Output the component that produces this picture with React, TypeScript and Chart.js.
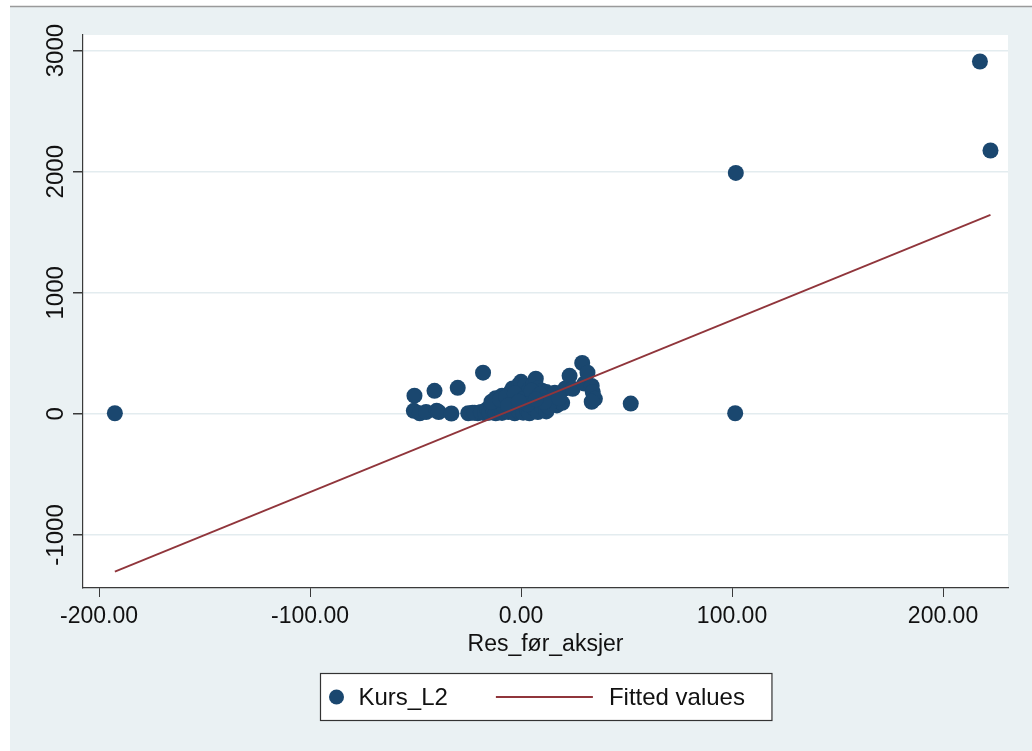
import React, { useEffect, useRef } from "react";
import { Chart, registerables } from "chart.js";

Chart.register(...registerables);

// Kurs_L2 observations against Res_før_aksjer
const kursX = [
  -192.5, -50.5, -50.8, -48, -45, -41, -40, -39, -33, -30, -23, -20.5, -18,
  -25, -22, -19, -17, -16, -15, -14, -13, -12, -12, -11, -10, -9, -9, -8, -7,
  -6, -5, -5, -4, -4, -3, -2, -2, -1, -1, 0, 0, 1, 1, 2, 2, 3, 3, 4, 4, 5, 6,
  6, 7, 7, 8, 8, 9, 10, 10, 11, 12, 12, 13, 14, 15, 16, 17, 19.5, 21, 23, 24.5,
  29, 30, 31.5, 33.5, 34, 35, 33.5, 52, 101.5, 101.8, 217.5, 222.5,
  -14, -10, -7, -3, 1, 5, 9, 13, 11, 3, -6, -1, 7, 18,
];
const kursY = [
  5, 150, 25, 5, 15, 190, 25, 15, 3, 215, 10, 5, 340,
  5, 10, 15, 5, 40, 10, 70, 20, 130, 5, 90, 30, 150, 8, 60, 110,
  15, 180, 40, 210, 90, 5, 150, 60, 240, 20, 265, 110, 10, 180, 70, 230, 30, 140, 200, 5, 100, 250,
  50, 290, 160, 15, 210, 110, 60, 190, 150, 20, 180, 100, 160, 130, 175, 70, 91, 210, 314, 207,
  420, 250, 340, 230, 180, 124, 100, 85, 5, 1990, 2910, 2175,
  100, 120, 140, 170, 120, 190, 160, 60, 100, 80, 70, 100, 120, 130,
];

// Linear fit endpoints over the observed x range
const fittedX = [-192.5, 222.5];
const fittedY = [-1303, 1644];

const xTicks = [-200, -100, 0, 100, 200];
const yTicks = [-1000, 0, 1000, 2000, 3000];
const xTitle = "Res_før_aksjer";
const seriesLabels = ["Kurs_L2", "Fitted values"];

const NAVY = "#1a476f";
const MAROON = "#90353b";
const PAGE_BG = "#eaf1f3";
const GRID = "#e3ecef";
const AXIS = "#3a3a3a";
const FONT = '"Liberation Sans", Arial, Helvetica, sans-serif';

const backgroundPlugin = {
  id: "stataBackground",
  beforeDraw(chart: any) {
    const { ctx, width, height, chartArea } = chart;
    ctx.save();
    ctx.fillStyle = "#ffffff";
    ctx.fillRect(0, 0, width, height);
    ctx.fillStyle = PAGE_BG;
    ctx.fillRect(10, 7, width - 10, height - 7);
    ctx.strokeStyle = "#9a9a9a";
    ctx.lineWidth = 1.5;
    ctx.beginPath();
    ctx.moveTo(10, 6.5);
    ctx.lineTo(width, 6.5);
    ctx.stroke();
    ctx.fillStyle = "#ffffff";
    ctx.fillRect(
      chartArea.left,
      chartArea.top,
      chartArea.right - chartArea.left,
      chartArea.bottom - chartArea.top
    );
    ctx.restore();
  },
};

// Vertical y tick labels, read bottom-to-top
const yLabelPlugin = {
  id: "verticalYLabels",
  afterDraw(chart: any) {
    const { ctx } = chart;
    const scale = chart.scales.y;
    ctx.save();
    ctx.fillStyle = "#111111";
    ctx.font = `24px ${FONT}`;
    ctx.textAlign = "center";
    ctx.textBaseline = "alphabetic";
    for (const t of scale.ticks) {
      const py = scale.getPixelForValue(t.value);
      ctx.save();
      ctx.translate(63, py);
      ctx.rotate(-Math.PI / 2);
      ctx.fillText(String(t.value), 0, 0);
      ctx.restore();
    }
    ctx.restore();
  },
};

const legendPlugin = {
  id: "boxedLegend",
  afterDraw(chart: any) {
    const { ctx, chartArea } = chart;
    ctx.save();
    ctx.font = `24px ${FONT}`;
    const w1 = ctx.measureText(seriesLabels[0]).width;
    const w2 = ctx.measureText(seriesLabels[1]).width;
    const boxW = 38 + w1 + 48 + 97 + 16 + w2 + 27;
    const boxH = 47;
    const cx = (chartArea.left + chartArea.right) / 2;
    const left = Math.round(cx - boxW / 2) + 0.5;
    const top = 673.5;
    const midY = top + boxH / 2;

    ctx.fillStyle = "#ffffff";
    ctx.fillRect(left, top, boxW, boxH);
    ctx.strokeStyle = "#333333";
    ctx.lineWidth = 1.2;
    ctx.strokeRect(left, top, boxW, boxH);

    ctx.fillStyle = NAVY;
    ctx.beginPath();
    ctx.arc(left + 16, midY, 7.5, 0, Math.PI * 2);
    ctx.fill();

    ctx.fillStyle = "#111111";
    ctx.textAlign = "left";
    ctx.textBaseline = "middle";
    ctx.fillText(seriesLabels[0], left + 38, midY + 1);

    const lineStart = left + 38 + w1 + 48;
    ctx.strokeStyle = MAROON;
    ctx.lineWidth = 1.8;
    ctx.beginPath();
    ctx.moveTo(lineStart, midY);
    ctx.lineTo(lineStart + 97, midY);
    ctx.stroke();

    ctx.fillText(seriesLabels[1], lineStart + 97 + 16, midY + 1);
    ctx.restore();
  },
};

export default function App() {
  const canvasRef = useRef<HTMLCanvasElement | null>(null);

  useEffect(() => {
    if (!canvasRef.current) return;
    const points = kursX.map((x, i) => ({ x, y: kursY[i] }));
    const fitted = fittedX.map((x, i) => ({ x, y: fittedY[i] }));

    const chart = new Chart(canvasRef.current, {
      type: "scatter",
      data: {
        datasets: [
          {
            type: "line",
            label: seriesLabels[1],
            data: fitted,
            borderColor: MAROON,
            borderWidth: 1.8,
            pointRadius: 0,
            showLine: true,
            fill: false,
            order: 0,
          } as any,
          {
            label: seriesLabels[0],
            data: points,
            backgroundColor: NAVY,
            borderColor: NAVY,
            borderWidth: 0,
            pointRadius: 8,
            order: 1,
          },
        ],
      },
      options: {
        animation: false,
        responsive: false,
        devicePixelRatio: 1,
        layout: { padding: { left: 0, top: 35, right: 24, bottom: 93 } },
        plugins: {
          legend: { display: false },
          tooltip: { enabled: false },
        },
        scales: {
          x: {
            type: "linear",
            min: -207.6,
            max: 230.8,
            afterBuildTicks: (scale: any) => {
              scale.ticks = xTicks.map((v) => ({ value: v }));
            },
            afterFit: (scale: any) => {
              scale.height = 70;
            },
            grid: {
              display: true,
              color: "rgba(0,0,0,0)",
              tickColor: AXIS,
              tickLength: 9,
              drawTicks: true,
            },
            border: { display: true, color: AXIS, width: 1.2 },
            ticks: {
              color: "#111111",
              font: { family: FONT, size: 23 },
              padding: 6,
              maxRotation: 0,
              minRotation: 0,
              callback: (v: any) => Number(v).toFixed(2),
            },
            title: {
              display: true,
              text: xTitle,
              color: "#111111",
              font: { family: FONT, size: 23 },
              padding: { top: 0, bottom: 0 },
            },
          },
          y: {
            type: "linear",
            min: -1438,
            max: 3129,
            afterBuildTicks: (scale: any) => {
              scale.ticks = yTicks.map((v) => ({ value: v }));
            },
            afterFit: (scale: any) => {
              scale.width = 83;
            },
            grid: {
              display: true,
              color: GRID,
              lineWidth: 1.5,
              tickColor: AXIS,
              tickLength: 10,
              drawTicks: true,
            },
            border: { display: true, color: AXIS, width: 1.2 },
            ticks: { display: false },
          },
        },
      },
      plugins: [backgroundPlugin, yLabelPlugin, legendPlugin],
    });

    return () => chart.destroy();
  }, []);

  return (
    <div style={{ position: "fixed", left: 0, top: 0, width: 1032, height: 751 }}>
      <canvas ref={canvasRef} width={1032} height={751} />
    </div>
  );
}
